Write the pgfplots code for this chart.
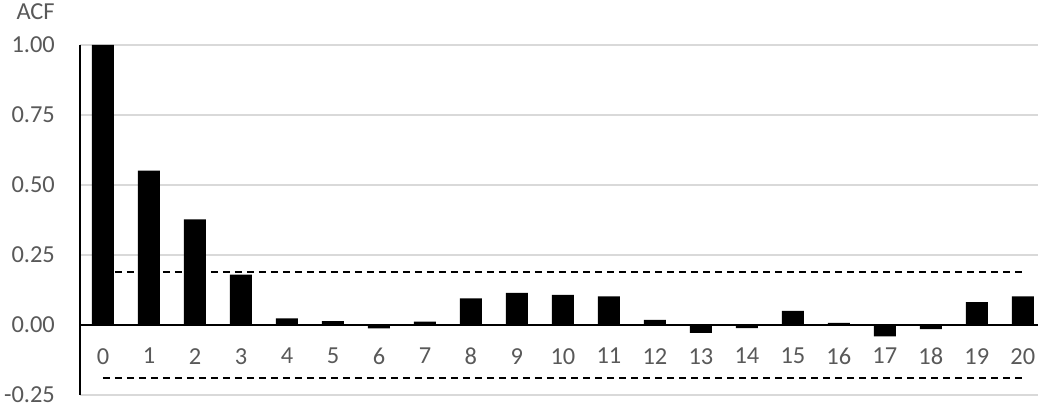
\documentclass[border=0pt]{standalone}
\usepackage{pgfplots}
\pgfplotsset{compat=1.18}
\usepackage{fontspec}
\setmainfont{Carlito}
\definecolor{ticktext}{HTML}{595959}
\definecolor{gridgray}{HTML}{D9D9D9}

% Autocorrelation of the series by lag
\pgfplotstableread{
lag acf
0  1.000
1  0.551
2  0.377
3  0.180
4  0.024
5  0.014
6  -0.012
7  0.012
8  0.095
9  0.115
10 0.108
11 0.102
12 0.018
13 -0.028
14 -0.011
15 0.050
16 0.008
17 -0.041
18 -0.015
19 0.082
20 0.102
}\acftable

\newcommand{\labelfont}{\fontsize{24.5}{29}\selectfont}

\begin{document}
\begin{tikzpicture}
\begin{axis}[
  scale only axis,
  width=958bp, height=350bp,
  xmin=-0.5, xmax=20.33,
  ymin=-0.25, ymax=1,
  axis y line=left,
  axis x line=middle,
  axis line style={-, black, line width=2.5bp},
  hide obscured x ticks=false,
  hide obscured y ticks=false,
  xtick={0,1,...,20},
  xticklabels={0,1,2,3,4,5,6,7,8,9,10,11,12,13,14,15,16,17,18,19,20},
  ytick={-0.25,0,0.25,0.5,0.75,1},
  yticklabels={-0.25,0.00,0.25,0.50,0.75,1.00},
  major tick length=0pt,
  ymajorgrids,
  major grid style={gridgray, line width=1.2bp},
  tick label style={font=\labelfont, text=ticktext, inner sep=0pt},
  yticklabel shift=25bp,
  xticklabel shift=23bp,
  clip=false,
]
  % confidence bounds
  \addplot[black, line width=2bp, dash pattern=on 7bp off 5bp] coordinates {(0,0.19) (20,0.19)};
  \addplot[black, line width=2bp, dash pattern=on 7bp off 5bp] coordinates {(0,-0.19) (20,-0.19)};
  % ACF bars
  \addplot[ybar, bar width=22bp, fill=black, draw=none] table[x=lag, y=acf] {\acftable};
  % vertical axis line
  \draw[black, line width=2.5bp] (rel axis cs:0,0) -- (rel axis cs:0,1);
  \node[anchor=base west, font=\labelfont, text=ticktext, xshift=-67bp, yshift=25bp] at (rel axis cs:0,1) {ACF};
  \coordinate (sw) at (rel axis cs:0,0);
\end{axis}
\pgfresetboundingbox
\path (sw) ++(-80bp,-16bp) rectangle ++(1038bp,411bp);
\end{tikzpicture}
\end{document}
